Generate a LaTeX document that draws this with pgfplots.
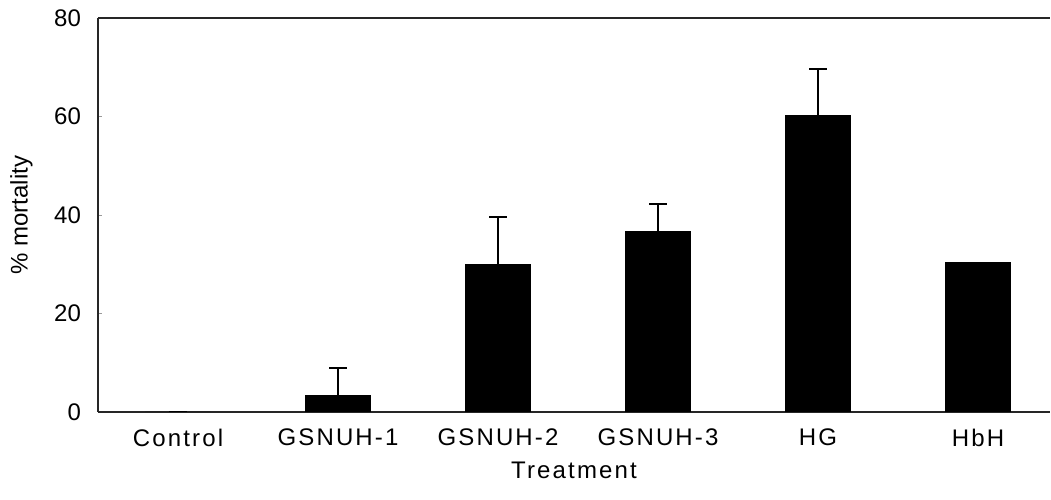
\documentclass[border=0pt]{standalone}
\usepackage{fontspec}
\setmainfont{Liberation Sans}
\newfontfamily\spaced[LetterSpace=9]{Liberation Sans}
\usepackage{pgfplots}
\pgfplotsset{compat=1.18}
\begin{document}
\begin{tikzpicture}
\begin{axis}[
  scale only axis,
  width=476pt, height=197pt,
  xmin=-0.5, xmax=5.45,
  ymin=0, ymax=80,
  ytick={0,20,40,60,80},
  xtick={0,1,2,3,4,5},
  xticklabels={Control,GSNUH-1,GSNUH-2,GSNUH-3,HG,HbH},
  x tick label style={font=\fontsize{12}{14}\selectfont\spaced, yshift=-3pt},
  y tick label style={font=\fontsize{12}{14}\selectfont, xshift=-5pt},
  /pgf/number format/assume math mode=true,
  axis x line=box,
  axis y line*=left,
  axis line style={-, line width=0.9pt, black!85},
  major tick length=2pt,
  xtick style={draw=none},
  ytick style={black!40, line width=0.4pt},
  tick align=inside,
  xlabel={\spaced Treatment},
  xlabel style={font=\fontsize{12}{14}\selectfont, yshift=-1pt},
  ylabel={\% mortality},
  ylabel style={font=\fontsize{12}{14}\selectfont, yshift=4pt},
  ybar, bar width=32.5pt,
]
\addplot[fill=black, draw=black,
  error bars/.cd, y dir=plus, y explicit,
  error bar style={line width=1pt, black},
  error mark options={rotate=90, mark size=4.5pt, line width=1pt, black}]
  coordinates {
  (0,0) +- (0,0)
  (1,3.4) +- (0,5.6)
  (2,30.0) +- (0,9.5)
  (3,36.6) +- (0,5.6)
  (4,60.2) +- (0,9.5)
  (5,30.3) +- (0,0)
};
\coordinate (bl) at (rel axis cs:0,0);
\coordinate (tr) at (rel axis cs:1,1);
\end{axis}
\path[use as bounding box] ([shift={(-49pt,-44pt)}]bl) rectangle ([shift={(0.5pt,9pt)}]tr);
\end{tikzpicture}
\end{document}
